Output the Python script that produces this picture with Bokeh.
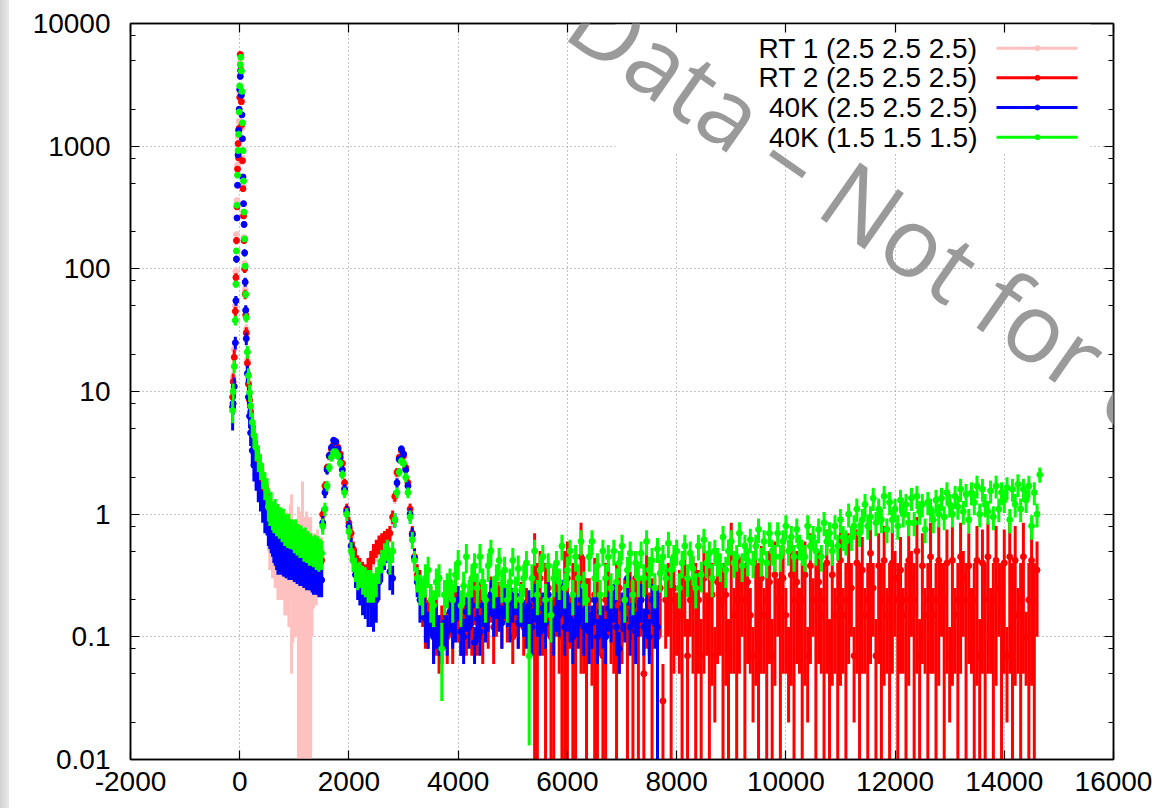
import math
from bokeh.plotting import figure
from bokeh.layouts import row
from bokeh.models import (Range1d, FixedTicker, LinearAxis, LogAxis, Div,
                          CustomJSTickFormatter, Label, BoxAnnotation)
from bokeh.embed import file_html
from bokeh.resources import INLINE

# ---------------- data: points with y error bars ----------------
x_ticks = [-2000, 0, 2000, 4000, 6000, 8000, 10000, 12000, 14000, 16000]
y_ticks = [0.01, 0.1, 1, 10, 100, 1000, 10000]
y_minor = [0.02, 0.05, 0.08, 0.2, 0.5, 0.8, 2, 5, 8, 20, 50, 80, 200, 500, 800, 2000, 5000, 8000]

series_labels = ["RT 1 (2.5 2.5 2.5)", "RT 2 (2.5 2.5 2.5)",
                 "40K (2.5 2.5 2.5)", "40K (1.5 1.5 1.5)"]
series_colors = ["#ffc0c0", "#ff0000", "#0000ff", "#00ff00"]

x_peak = [-130, -120, -100, -80, -70, -60, -50, -40, -30, -20, -10, 0, 10, 20, 30,
          40, 50, 60, 70, 80, 90, 100, 110, 120, 140, 160, 180, 200, 230, 260, 300,
          340, 380, 420, 460, 500]
x_low = list(range(525, 1525, 25))
x_mid = [1520, 1560, 1600, 1640, 1680, 1720, 1760, 1800, 1840, 1880, 1920, 1960, 2000,
         2040, 2080, 2120, 2160, 2200, 2250, 2300, 2350, 2400, 2450, 2500, 2550, 2600,
         2650, 2700, 2750, 2800, 2840, 2880, 2920, 2960, 3000, 3040, 3080, 3120, 3160,
         3200, 3250, 3300]
x_tail_green = list(range(3350, 14700, 50))
x_tail_red = list(range(3350, 14650, 50))
x_tail_blue = list(range(3350, 7700, 50))

# ---- RT 1 (pink)
rt1_peak = [8, 13, 22, 50, 95, 190, 360, 700, 1200, 950, 1600, 2700, 4800, 3900, 2400,
            1400, 800, 480, 290, 180, 110, 68, 45, 32, 18, 12, 9, 7, 5.5, 4.4, 3.4,
            2.8, 2.4, 2.0, 1.7, 1.5]
rt1_peak_err = [2, 2, 3, 5, 8, 12, 18, 30, 40, 35, 50, 70, 100, 90, 60, 40, 28, 20, 15,
                11, 8, 6, 4.5, 3.5, 2.5, 2, 1.6, 1.3, 1.1, 0.9, 0.7, 0.6, 0.5, 0.45, 0.4,
                0.35]
rt1_low = [0.8, 0.7, 0.75, 0.6, 0.65, 0.55, 0.6, 0.5, 0.55, 0.5,
           0.6, 0.5, 0.55, 0.6, 0.45, 0.5, 0.7, 0.75, 0.45, 0.5,
           0.45, 0.5, 0.55, 0.4, 0.5, 0.9, 0.45, 0.4, 0.5, 0.45,
           0.4, 0.45, 0.4, 0.42, 0.45, 0.4, 0.5, 0.45, 0.42, 0.45]
rt1_low_err = [0.3, 0.35, 0.4, 0.3, 0.35, 0.3, 0.35, 0.3, 0.3, 0.3,
               0.35, 0.3, 0.4, 0.45, 0.3, 0.38, 0.5, 0.7, 0.36, 0.4,
               0.35, 0.4, 0.6, 0.45, 0.55, 0.95, 0.5, 0.45, 0.55, 0.5,
               0.45, 0.5, 0.3, 0.25, 0.25, 0.22, 0.25, 0.22, 0.2, 0.2]
rt1_mid = [0.95, 1.6, 2.3, 2.9, 3.3, 3.6, 3.7, 3.4, 3.0, 2.5, 1.7, 1.05, 0.8, 0.65, 0.5,
           0.42, 0.36, 0.34, 0.31, 0.3, 0.34, 0.4, 0.46, 0.5, 0.55, 0.58, 0.6, 0.63,
           0.68, 0.9, 1.35, 2.1, 2.8, 3.2, 2.9, 2.3, 1.7, 1.05, 0.68, 0.43, 0.31, 0.27]
rt1_mid_err = [0.12, 0.15, 0.18, 0.2, 0.22, 0.23, 0.23, 0.22, 0.2, 0.18, 0.15, 0.12,
               0.1, 0.09, 0.08, 0.08, 0.08, 0.08, 0.08, 0.08, 0.08, 0.08, 0.09, 0.09,
               0.1, 0.1, 0.1, 0.1, 0.1, 0.12, 0.14, 0.18, 0.2, 0.22, 0.21, 0.19, 0.16,
               0.12, 0.1, 0.08, 0.07, 0.07]

# ---- RT 2 (red)
rt2_peak = [9, 12, 19, 45, 85, 170, 320, 650, 1050, 800, 1400, 2500, 5600, 4200, 2300,
            1500, 760, 450, 270, 170, 100, 62, 42, 30, 17, 11.5, 8.5, 6.8, 5.2, 4.3,
            3.3, 2.7, 2.3, 1.9, 1.55, 1.4]
rt2_peak_err = [2, 2, 3, 4, 7, 11, 16, 28, 36, 30, 45, 65, 110, 90, 55, 40, 26, 19, 14,
                10, 7.5, 5.5, 4.2, 3.4, 2.4, 1.9, 1.5, 1.2, 1.0, 0.85, 0.7, 0.6, 0.5,
                0.42, 0.36, 0.33]
rt2_low = [1.0, 0.95, 0.9, 0.85, 0.8, 0.82, 0.75, 0.72, 0.7, 0.68,
           0.66, 0.65, 0.62, 0.6, 0.62, 0.58, 0.57, 0.55, 0.56, 0.52,
           0.54, 0.5, 0.5, 0.48, 0.49, 0.46, 0.45, 0.47, 0.44, 0.45,
           0.42, 0.43, 0.41, 0.4, 0.42, 0.39, 0.4, 0.38, 0.4, 0.42]
rt2_low_err = [0.25, 0.24, 0.23, 0.22, 0.21, 0.21, 0.2, 0.19, 0.19, 0.18,
               0.18, 0.18, 0.17, 0.17, 0.17, 0.16, 0.16, 0.16, 0.16, 0.15,
               0.15, 0.15, 0.15, 0.14, 0.14, 0.14, 0.13, 0.14, 0.13, 0.13,
               0.13, 0.13, 0.12, 0.12, 0.13, 0.12, 0.12, 0.12, 0.12, 0.12]
rt2_mid = [1.0, 1.7, 2.4, 3.0, 3.4, 3.7, 3.8, 3.5, 3.1, 2.6, 1.8, 1.1, 0.85, 0.7, 0.52,
           0.44, 0.38, 0.36, 0.33, 0.31, 0.36, 0.42, 0.48, 0.53, 0.57, 0.6, 0.63, 0.66,
           0.7, 0.95, 1.4, 2.2, 2.9, 3.3, 3.0, 2.4, 1.8, 1.1, 0.7, 0.45, 0.32, 0.28]
rt2_mid_err = [0.12, 0.15, 0.18, 0.2, 0.22, 0.23, 0.23, 0.22, 0.2, 0.18, 0.15, 0.12,
               0.1, 0.09, 0.08, 0.08, 0.08, 0.08, 0.08, 0.08, 0.08, 0.08, 0.09, 0.09,
               0.1, 0.1, 0.1, 0.1, 0.1, 0.12, 0.14, 0.18, 0.2, 0.22, 0.21, 0.19, 0.16,
               0.12, 0.1, 0.08, 0.07, 0.07]
rt2_tail = [0.2, 0.15, 0.14, 0.18, 0.12, 0.14, 0.1, 0.12, 0.15, 0.1,
            0.18, 0.12, 0.22, 0.16, 0.13, 0.2, 0.1, 0.18, 0.13, 0.22,
            0.13, 0.2, 0.1, 0.18, 0.15, 0.22, 0.12, 0.17, 0.2, 0.14,
            0.22, 0.16, 0.2, 0.1, 0.18, 0.14, 0.2, 0.12, 0.18, 0.12,
            0.15, 0.35, 0.2, 0.3, 0.12, 0.2, 0.25, 0.1, 0.18, 0.25,
            0.2, 0.1, 0.25, 0.3, 0.15, 0.2, 0.2, 0.2, 0.45, 0.25,
            0.15, 0.2, 0.1, 0.22, 0.18, 0.15, 0.07, 0.2, 0.25, 0.12,
            0.1, 0.2, 0.25, 0.12, 0.2, 0.15, 0.22, 0.1, 0.3, 0.15,
            0.2, 0.05, 0.28, 0.15, 0.15, 0.2, 0.1, 0.25, 0.03, 0.2,
            0.25, 0.2, 0.25, 0.15, 0.2, 0.15, 0.3, 0.07, 0.2, 0.25,
            0.2, 0.2, 0.07, 0.3, 0.15, 0.2, 0.22, 0.07, 0.28, 0.18,
            0.2, 0.22, 0.07, 0.45, 0.15, 0.2, 0.25, 0.2, 0.2, 0.28,
            0.15, 0.07, 0.32, 0.2, 0.3, 0.15, 0.2, 0.28, 0.07, 0.32,
            0.2, 0.2, 0.3, 0.15, 0.07, 0.32, 0.2, 0.28, 0.15, 0.2,
            0.32, 0.07, 0.38, 0.2, 0.2, 0.28, 0.15, 0.2, 0.4, 0.07,
            0.32, 0.15, 0.2, 0.42, 0.15, 0.2, 0.38, 0.25, 0.07, 0.4,
            0.2, 0.35, 0.15, 0.2, 0.48, 0.25, 0.07, 0.38, 0.2, 0.42,
            0.15, 0.2, 0.4, 0.3, 0.2, 0.35, 0.15, 0.2, 0.42, 0.3,
            0.2, 0.5, 0.07, 0.38, 0.15, 0.2, 0.45, 0.15, 0.2, 0.42,
            0.25, 0.2, 0.4, 0.07, 0.42, 0.15, 0.2, 0.45, 0.3, 0.2,
            0.38, 0.15, 0.2, 0.42, 0.07, 0.4, 0.2, 0.45, 0.15, 0.2,
            0.42, 0.25, 0.2, 0.4, 0.07, 0.45, 0.2, 0.42, 0.15, 0.2,
            0.45, 0.1, 0.2, 0.42, 0.2, 0.35]
rt2_tail_err = [0.08, 0.07, 0.06, 0.08, 0.06, 0.07, 0.05, 0.06, 0.07, 0.04,
                0.08, 0.06, 0.09, 0.07, 0.06, 0.08, 0.03, 0.08, 0.06, 0.09,
                0.06, 0.08, 0.04, 0.08, 0.07, 0.09, 0.06, 0.07, 0.08, 0.06,
                0.09, 0.07, 0.08, 0.04, 0.08, 0.06, 0.08, 0.05, 0.07, 0.05,
                0.06, 0.35, 0.2, 0.2, 0.05, 0.2, 0.15, 0.1, 0.18, 0.15,
                0.15, 0.1, 0.25, 0.3, 0.07, 0.2, 0.2, 0.1, 0.4, 0.2,
                0.15, 0.1, 0.06, 0.22, 0.18, 0.08, 0.07, 0.2, 0.15, 0.06,
                0.05, 0.2, 0.2, 0.06, 0.1, 0.15, 0.12, 0.1, 0.2, 0.15,
                0.1, 0.05, 0.2, 0.08, 0.15, 0.1, 0.05, 0.15, 0.03, 0.12,
                0.15, 0.2, 0.2, 0.08, 0.15, 0.15, 0.2, 0.07, 0.1, 0.2,
                0.2, 0.15, 0.07, 0.25, 0.08, 0.2, 0.18, 0.05, 0.22, 0.11,
                0.2, 0.18, 0.07, 0.4, 0.1, 0.2, 0.2, 0.1, 0.2, 0.22,
                0.1, 0.05, 0.28, 0.2, 0.25, 0.1, 0.2, 0.22, 0.07, 0.28,
                0.1, 0.2, 0.25, 0.1, 0.05, 0.28, 0.2, 0.22, 0.1, 0.2,
                0.28, 0.05, 0.32, 0.1, 0.2, 0.22, 0.1, 0.2, 0.35, 0.07,
                0.28, 0.1, 0.2, 0.38, 0.1, 0.2, 0.32, 0.15, 0.05, 0.35,
                0.2, 0.3, 0.1, 0.2, 0.42, 0.15, 0.07, 0.32, 0.2, 0.38,
                0.1, 0.2, 0.35, 0.2, 0.2, 0.3, 0.1, 0.2, 0.38, 0.2,
                0.2, 0.45, 0.07, 0.32, 0.1, 0.2, 0.4, 0.1, 0.2, 0.38,
                0.15, 0.2, 0.35, 0.05, 0.38, 0.1, 0.2, 0.4, 0.2, 0.2,
                0.32, 0.1, 0.2, 0.38, 0.07, 0.35, 0.2, 0.4, 0.1, 0.2,
                0.38, 0.15, 0.2, 0.35, 0.05, 0.4, 0.2, 0.38, 0.1, 0.2,
                0.4, 0.06, 0.2, 0.38, 0.2, 0.25]

# ---- 40K (2.5 2.5 2.5) (blue)
k40a_peak = [7.5, 8, 11, 25, 55, 120, 260, 480, 850, 1350, 2000, 2900, 3700, 4100, 2600,
             1800, 1150, 560, 340, 230, 135, 78, 46, 27, 14, 9, 6.3, 4.6, 3.3, 2.5,
             2.1, 1.7, 1.45, 1.2, 1.0, 0.95]
k40a_peak_err = [2.7, 1.5, 2, 3, 5, 8, 13, 20, 28, 35, 42, 50, 60, 62, 48, 40, 32, 22,
                 16, 13, 9, 6.5, 4.5, 3.2, 2.2, 1.7, 1.3, 1.0, 0.8, 0.65, 0.55, 0.45,
                 0.4, 0.35, 0.3, 0.28]
k40a_low = [0.85, 0.8, 0.75, 0.7, 0.62, 0.58, 0.55, 0.5, 0.52, 0.48,
            0.5, 0.46, 0.47, 0.44, 0.46, 0.43, 0.45, 0.42, 0.44, 0.4,
            0.42, 0.38, 0.4, 0.37, 0.38, 0.36, 0.35, 0.37, 0.34, 0.35,
            0.33, 0.34, 0.32, 0.31, 0.33, 0.3, 0.31, 0.29, 0.3, 0.29]
k40a_low_err = [0.3, 0.28, 0.27, 0.25, 0.22, 0.2, 0.2, 0.18, 0.18, 0.16,
                0.17, 0.15, 0.16, 0.14, 0.15, 0.14, 0.14, 0.13, 0.14, 0.12,
                0.13, 0.11, 0.12, 0.11, 0.11, 0.1, 0.1, 0.11, 0.1, 0.1,
                0.09, 0.1, 0.09, 0.09, 0.09, 0.08, 0.09, 0.08, 0.08, 0.08]
k40a_mid = [0.85, 1.5, 2.3, 3.0, 3.5, 4.0, 3.9, 3.4, 2.9, 2.3, 1.6, 1.05, 0.8, 0.55,
            0.42, 0.32, 0.27, 0.25, 0.22, 0.21, 0.19, 0.18, 0.17, 0.2, 0.28, 0.38, 0.45,
            0.5, 0.34, 0.3, 0.9, 1.8, 2.8, 3.4, 3.1, 2.3, 1.7, 1.0, 0.68, 0.44, 0.28,
            0.2]
k40a_mid_err = [0.12, 0.15, 0.2, 0.22, 0.24, 0.25, 0.25, 0.23, 0.21, 0.19, 0.16, 0.12,
                0.1, 0.09, 0.08, 0.07, 0.07, 0.07, 0.07, 0.07, 0.07, 0.06, 0.06, 0.07,
                0.08, 0.1, 0.1, 0.1, 0.1, 0.08, 0.12, 0.16, 0.2, 0.22, 0.21, 0.19, 0.16,
                0.12, 0.1, 0.08, 0.07, 0.07]
k40a_tail = [0.2, 0.14, 0.12, 0.15, 0.1, 0.13, 0.11, 0.09, 0.13, 0.11,
             0.16, 0.12, 0.14, 0.2, 0.11, 0.1, 0.16, 0.12, 0.18, 0.09,
             0.14, 0.11, 0.18, 0.14, 0.16, 0.22, 0.15, 0.2, 0.16, 0.13,
             0.2, 0.18, 0.14, 0.19, 0.22, 0.13, 0.18, 0.15, 0.13, 0.18,
             0.12, 0.2, 0.15, 0.11, 0.17, 0.13, 0.22, 0.15, 0.12, 0.17,
             0.15, 0.22, 0.12, 0.17, 0.14, 0.1, 0.16, 0.13, 0.2, 0.12,
             0.17, 0.11, 0.13, 0.2, 0.1, 0.16, 0.13, 0.1, 0.17, 0.14,
             0.2, 0.12, 0.08, 0.17, 0.14, 0.3, 0.12, 0.18, 0.11, 0.15,
             0.2, 0.12, 0.16, 0.1, 0.2, 0.13, 0.12]
k40a_tail_err = [0.06, 0.05, 0.04, 0.05, 0.04, 0.05, 0.04, 0.03, 0.05, 0.04,
                 0.05, 0.04, 0.05, 0.06, 0.04, 0.04, 0.05, 0.04, 0.06, 0.03,
                 0.05, 0.04, 0.06, 0.05, 0.05, 0.07, 0.05, 0.06, 0.05, 0.05,
                 0.06, 0.06, 0.05, 0.06, 0.07, 0.05, 0.06, 0.05, 0.05, 0.06,
                 0.05, 0.07, 0.05, 0.04, 0.06, 0.05, 0.07, 0.05, 0.05, 0.06,
                 0.05, 0.07, 0.05, 0.06, 0.05, 0.04, 0.06, 0.05, 0.07, 0.05,
                 0.06, 0.05, 0.05, 0.07, 0.04, 0.06, 0.05, 0.04, 0.06, 0.05,
                 0.07, 0.05, 0.03, 0.06, 0.05, 0.12, 0.05, 0.06, 0.05, 0.05,
                 0.07, 0.05, 0.06, 0.04, 0.07, 0.05, 0.12]

# ---- 40K (1.5 1.5 1.5) (green)
k40b_peak = [7, 10, 16, 38, 75, 140, 330, 580, 920, 1250, 1900, 3100, 4600, 5300, 4100,
             2800, 1550, 920, 520, 290, 175, 105, 62, 40, 21, 13.5, 9.8, 7.6, 5.6, 4.4,
             3.5, 2.9, 2.5, 2.1, 1.75, 1.55]
k40b_peak_err = [1.5, 1.6, 2, 3.5, 5, 7, 11, 15, 19, 22, 28, 35, 43, 46, 40, 33, 25, 19,
                 14, 10, 7.5, 5.8, 4.4, 3.5, 2.5, 2.0, 1.6, 1.4, 1.15, 0.95, 0.8, 0.7,
                 0.6, 0.5, 0.45, 0.42]
k40b_low = [1.15, 1.1, 1.2, 1.0, 0.95, 1.05, 0.9, 0.95, 0.85, 0.9,
            0.8, 0.88, 0.75, 0.8, 0.72, 0.8, 0.7, 0.72, 0.7, 0.65,
            0.72, 0.62, 0.66, 0.6, 0.64, 0.6, 0.56, 0.62, 0.54, 0.58,
            0.52, 0.55, 0.52, 0.5, 0.54, 0.48, 0.52, 0.46, 0.5, 0.48]
k40b_low_err = [0.28, 0.3, 0.32, 0.26, 0.25, 0.28, 0.24, 0.26, 0.22, 0.24,
                0.21, 0.23, 0.2, 0.21, 0.19, 0.21, 0.18, 0.19, 0.19, 0.17,
                0.19, 0.16, 0.17, 0.16, 0.17, 0.16, 0.15, 0.16, 0.14, 0.15,
                0.14, 0.15, 0.14, 0.13, 0.14, 0.13, 0.14, 0.12, 0.13, 0.13]
k40b_mid = [0.8, 1.1, 1.7, 2.4, 2.9, 3.2, 3.2, 3.0, 2.6, 2.1, 1.5, 1.0, 0.72, 0.5,
            0.42, 0.36, 0.32, 0.33, 0.3, 0.29, 0.27, 0.27, 0.26, 0.29, 0.35, 0.42, 0.48,
            0.52, 0.42, 0.5, 0.9, 1.5, 2.2, 2.7, 2.6, 2.0, 1.5, 0.95, 0.62, 0.42, 0.3,
            0.25]
k40b_mid_err = [0.12, 0.14, 0.17, 0.2, 0.22, 0.23, 0.23, 0.22, 0.2, 0.18, 0.15, 0.12,
                0.1, 0.09, 0.08, 0.08, 0.08, 0.08, 0.08, 0.08, 0.08, 0.08, 0.07, 0.08,
                0.08, 0.09, 0.1, 0.1, 0.1, 0.1, 0.12, 0.15, 0.18, 0.2, 0.2, 0.18, 0.15,
                0.12, 0.1, 0.08, 0.07, 0.07]
k40b_tail = [0.22, 0.3, 0.35, 0.2, 0.18, 0.28, 0.3, 0.08, 0.22, 0.25,
             0.28, 0.2, 0.32, 0.4, 0.18, 0.26, 0.45, 0.22, 0.3, 0.38,
             0.25, 0.45, 0.28, 0.2, 0.38, 0.5, 0.24, 0.3, 0.42, 0.27,
             0.35, 0.2, 0.28, 0.42, 0.24, 0.36, 0.2, 0.3, 0.4, 0.07,
             0.3, 0.5, 0.22, 0.35, 0.45, 0.2, 0.38, 0.15, 0.3, 0.4,
             0.28, 0.55, 0.25, 0.35, 0.5, 0.22, 0.45, 0.3, 0.6, 0.26,
             0.2, 0.45, 0.6, 0.3, 0.38, 0.22, 0.5, 0.3, 0.45, 0.25,
             0.5, 0.28, 0.4, 0.55, 0.2, 0.35, 0.48, 0.22, 0.4, 0.3,
             0.48, 0.3, 0.6, 0.35, 0.42, 0.25, 0.52, 0.33, 0.45, 0.3,
             0.58, 0.35, 0.45, 0.5, 0.25, 0.4, 0.55, 0.3, 0.48, 0.36,
             0.25, 0.55, 0.32, 0.62, 0.4, 0.48, 0.3, 0.5, 0.42, 0.38,
             0.65, 0.35, 0.5, 0.6, 0.4, 0.45, 0.7, 0.38, 0.55, 0.42,
             0.62, 0.4, 0.55, 0.75, 0.42, 0.6, 0.4, 0.7, 0.5, 0.45,
             0.7, 0.45, 0.6, 0.8, 0.5, 0.65, 0.45, 0.75, 0.55, 0.5,
             0.45, 0.8, 0.55, 0.65, 0.5, 0.75, 0.45, 0.85, 0.6, 0.7,
             0.5, 0.8, 0.55, 0.9, 0.65, 0.6, 1.0, 0.65, 0.8, 1.1,
             0.7, 0.9, 1.2, 0.8, 0.95, 1.35, 0.85, 1.1, 0.9, 1.4,
             0.75, 1.25, 0.9, 1.1, 0.8, 1.3, 1.0, 1.2, 0.85, 1.35,
             0.85, 1.4, 1.05, 1.2, 0.75, 1.25, 1.1, 0.9, 1.3, 1.0,
             1.35, 0.95, 1.5, 1.2, 1.0, 1.4, 1.15, 1.6, 1.05, 1.45,
             0.9, 1.5, 1.25, 1.7, 1.0, 1.6, 1.2, 1.05, 1.55, 0.95,
             1.7, 1.1, 1.5, 1.3, 1.65, 0.9, 1.6, 1.2, 1.75, 1.1,
             1.6, 1.3, 1.7, 0.8, 1.5, 1.0, 2.1]
k40b_tail_err = [0.07, 0.09, 0.1, 0.07, 0.06, 0.08, 0.09, 0.05, 0.07, 0.08,
                 0.08, 0.07, 0.09, 0.11, 0.06, 0.08, 0.12, 0.07, 0.09, 0.1,
                 0.08, 0.12, 0.08, 0.07, 0.1, 0.12, 0.07, 0.09, 0.11, 0.08,
                 0.1, 0.07, 0.08, 0.11, 0.07, 0.1, 0.07, 0.09, 0.1, 0.057,
                 0.09, 0.12, 0.07, 0.1, 0.11, 0.07, 0.1, 0.06, 0.09, 0.1,
                 0.08, 0.13, 0.08, 0.1, 0.12, 0.07, 0.11, 0.09, 0.14, 0.08,
                 0.07, 0.11, 0.14, 0.09, 0.1, 0.07, 0.12, 0.09, 0.11, 0.08,
                 0.12, 0.08, 0.1, 0.13, 0.07, 0.1, 0.12, 0.07, 0.1, 0.09,
                 0.12, 0.09, 0.14, 0.1, 0.11, 0.08, 0.12, 0.1, 0.11, 0.09,
                 0.14, 0.1, 0.11, 0.12, 0.08, 0.1, 0.13, 0.09, 0.12, 0.1,
                 0.08, 0.13, 0.09, 0.14, 0.1, 0.12, 0.09, 0.12, 0.11, 0.1,
                 0.15, 0.1, 0.12, 0.14, 0.1, 0.11, 0.16, 0.1, 0.13, 0.11,
                 0.14, 0.1, 0.13, 0.17, 0.11, 0.14, 0.1, 0.16, 0.12, 0.11,
                 0.16, 0.11, 0.14, 0.18, 0.12, 0.15, 0.11, 0.17, 0.13, 0.12,
                 0.11, 0.18, 0.13, 0.15, 0.12, 0.17, 0.11, 0.19, 0.14, 0.16,
                 0.12, 0.18, 0.13, 0.2, 0.15, 0.14, 0.22, 0.15, 0.18, 0.24,
                 0.16, 0.2, 0.26, 0.18, 0.21, 0.29, 0.19, 0.24, 0.2, 0.3,
                 0.17, 0.27, 0.2, 0.24, 0.18, 0.28, 0.22, 0.26, 0.19, 0.29,
                 0.19, 0.3, 0.23, 0.26, 0.17, 0.27, 0.24, 0.2, 0.28, 0.22,
                 0.29, 0.21, 0.32, 0.26, 0.22, 0.3, 0.25, 0.34, 0.23, 0.31,
                 0.2, 0.32, 0.27, 0.36, 0.22, 0.34, 0.26, 0.23, 0.33, 0.21,
                 0.36, 0.24, 0.32, 0.28, 0.35, 0.2, 0.34, 0.26, 0.37, 0.24,
                 0.34, 0.28, 0.36, 0.18, 0.32, 0.22, 0.3]

rt1_x = x_peak + x_low + x_mid
rt1_y = rt1_peak + rt1_low + rt1_mid
rt1_e = rt1_peak_err + rt1_low_err + rt1_mid_err
rt2_x = x_peak + x_low + x_mid + x_tail_red
rt2_y = rt2_peak + rt2_low + rt2_mid + rt2_tail
rt2_e = rt2_peak_err + rt2_low_err + rt2_mid_err + rt2_tail_err
k40a_x = x_peak + x_low + x_mid + x_tail_blue
k40a_y = k40a_peak + k40a_low + k40a_mid + k40a_tail
k40a_e = k40a_peak_err + k40a_low_err + k40a_mid_err + k40a_tail_err
k40b_x = x_peak + x_low + x_mid + x_tail_green
k40b_y = k40b_peak + k40b_low + k40b_mid + k40b_tail
k40b_e = k40b_peak_err + k40b_low_err + k40b_mid_err + k40b_tail_err

# ---------------- layout helpers (page pixel -> data, for decorations only) ----------------
W, H = 1162, 808
STRIP = 9                                  # grey strip at the left edge of the picture
FL, FR, FT, FB = 130, 1113, 23, 759        # plot frame in page pixels
XMIN, XMAX, YMIN, YMAX = -2000, 16000, 0.01, 10000
FLOOR = 1e-4  # where an error bar reaching zero is drawn to (below the visible range)


def px_x(px):
    return XMIN + (px - FL) * (XMAX - XMIN) / (FR - FL)


def px_y(py):
    lo, hi = math.log10(YMIN), math.log10(YMAX)
    return 10 ** (hi - (py - FT) * (hi - lo) / (FB - FT))


FONT = "Liberation Sans"

p = figure(width=W - STRIP, height=H, output_backend="svg", toolbar_location=None,
           x_range=Range1d(XMIN, XMAX), y_range=Range1d(YMIN, YMAX),
           y_axis_type="log",
           min_border_left=FL - STRIP, min_border_right=W - FR,
           min_border_top=FT, min_border_bottom=H - FB)
p.background_fill_color = "white"
p.border_fill_color = "white"
p.outline_line_color = "black"
p.outline_line_width = 1.5

xticker = FixedTicker(ticks=x_ticks)
yticker = FixedTicker(ticks=y_ticks, minor_ticks=y_minor)
fmt = CustomJSTickFormatter(code="return tick.toString();")

xa = p.xaxis[0]
xa.ticker = xticker
xa.formatter = fmt
ya = p.yaxis[0]
ya.ticker = yticker
ya.formatter = fmt
for ax in (xa, ya):
    ax.major_tick_in = 9
    ax.major_tick_out = 0
    ax.minor_tick_in = 5
    ax.minor_tick_out = 0
    ax.axis_line_width = 1.5
    ax.major_tick_line_width = 1.2
    ax.minor_tick_line_width = 1.2
    ax.major_label_text_font = FONT
    ax.major_label_text_font_size = "28px"
    ax.major_label_text_color = "black"
xa.major_label_standoff = 12
ya.major_label_standoff = 20

blank = CustomJSTickFormatter(code="return '';")
top = LinearAxis(ticker=xticker, formatter=blank, major_tick_in=9, major_tick_out=0,
                 minor_tick_in=0, minor_tick_out=0, axis_line_width=1.5,
                 major_tick_line_width=1.2, major_label_text_font_size="1px",
                 major_label_standoff=0)
right = LogAxis(ticker=yticker, formatter=blank, major_tick_in=9, major_tick_out=0,
                minor_tick_in=5, minor_tick_out=0, axis_line_width=1.5,
                major_tick_line_width=1.2, minor_tick_line_width=1.2,
                major_label_text_font_size="1px", major_label_standoff=0)
p.add_layout(top, "above")
p.add_layout(right, "right")

p.xgrid.ticker = xticker
p.ygrid.ticker = yticker
for g in (p.xgrid[0], p.ygrid[0]):
    g.grid_line_color = "#8a8a8a"
    g.grid_line_dash = "1 3"
    g.grid_line_width = 1

# white key background (hides the grid behind the key, as in the original)
key_bg = BoxAnnotation(left=px_x(615), right=px_x(1090), bottom=px_y(153), top=YMAX,
                       fill_color="white", fill_alpha=1.0, line_color=None,
                       level="underlay")
p.add_layout(key_bg)

# ---------------- series: points with vertical error bars ----------------
for xs, ys, es, c in ((rt1_x, rt1_y, rt1_e, series_colors[0]),
                      (rt2_x, rt2_y, rt2_e, series_colors[1]),
                      (k40a_x, k40a_y, k40a_e, series_colors[2]),
                      (k40b_x, k40b_y, k40b_e, series_colors[3])):
    lo = [y - e if y - e > 0 else FLOOR for y, e in zip(ys, es)]
    hi = [y + e for y, e in zip(ys, es)]
    p.segment(x0=xs, y0=lo, x1=xs, y1=hi, line_color=c, line_width=3)
    p.scatter(xs, ys, size=6, color=c)

# ---------------- key (gnuplot style: text right-aligned, sample on the right) ----------------
row_py = [47.7, 77.3, 107.0, 136.7]
for lab, c, ry in zip(series_labels, series_colors, row_py):
    yy = px_y(ry)
    p.add_layout(Label(x=px_x(977), y=yy, text=lab, text_align="right",
                       text_baseline="middle", text_font=FONT,
                       text_font_size="28px", text_color="black"))
    p.line([px_x(996), px_x(1077)], [yy, yy], line_color=c, line_width=3)
    p.scatter([px_x(1037)], [yy], size=5, color=c)

# ---------------- watermark ----------------
ang = math.radians(35)
ax0, ay0 = 834, 182
sp = 25
wm_font_size = "96px"
p.add_layout(Label(x=px_x(ax0), y=px_y(ay0), text="Not for distribution",
                   text_align="left", text_baseline="alphabetic", angle=-ang,
                   text_font="Open Sans", text_font_size=wm_font_size,
                   text_color="#9a9a9a"))
p.add_layout(Label(x=px_x(ax0 - sp * math.cos(ang)), y=px_y(ay0 - sp * math.sin(ang)),
                   text="Preliminary Data \u2013", text_align="right",
                   text_baseline="alphabetic", angle=-ang,
                   text_font="Open Sans", text_font_size=wm_font_size,
                   text_color="#9a9a9a"))

strip = Div(text="", width=STRIP, height=H,
            styles={"background": "linear-gradient(to right, #d2d2d2, #e8e8e8)",
                    "margin": "0", "padding": "0"})
layout = row(strip, p, spacing=0)

open("out.html", "w").write(file_html(layout, INLINE))
